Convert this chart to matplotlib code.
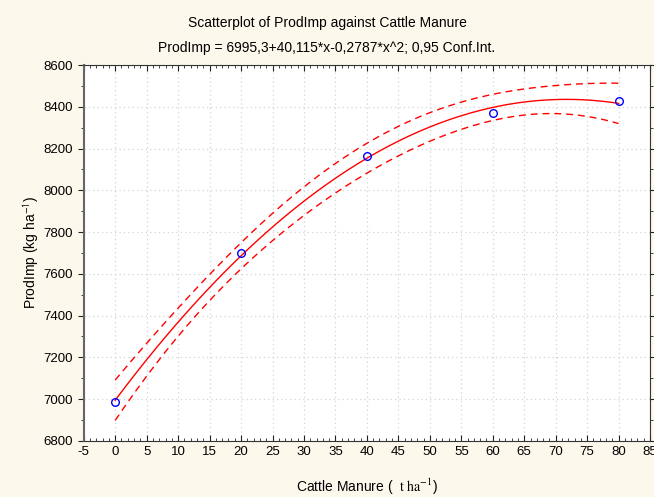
import numpy as np
import matplotlib
matplotlib.use("Agg")
import matplotlib.pyplot as plt
from matplotlib.ticker import MultipleLocator

# Data
manure = [0, 20, 40, 60, 80]
prodimp = [6987, 7698, 8165, 8371, 8428]
title1 = "Scatterplot of ProdImp against Cattle Manure"
title2 = "ProdImp = 6995,3+40,115*x-0,2787*x^2; 0,95 Conf.Int."
conf_level = 0.95
t_crit = 4.303  # t(0.975, df=2)

plt.rcParams['font.family'] = ['Liberation Sans', 'DejaVu Sans']
plt.rcParams['mathtext.fontset'] = 'stix'
plt.rcParams['axes.unicode_minus'] = False

x = np.array(manure, dtype=float)
y = np.array(prodimp, dtype=float)
X = np.vstack([np.ones_like(x), x, x**2]).T
beta, *_ = np.linalg.lstsq(X, y, rcond=None)
resid = y - X @ beta
dof = len(x) - 3
s2 = resid @ resid / dof
XtX_inv = np.linalg.inv(X.T @ X)

xs = np.linspace(0, 80, 200)
Xs = np.vstack([np.ones_like(xs), xs, xs**2]).T
fit = Xs @ beta
se = np.sqrt(s2 * np.einsum('ij,jk,ik->i', Xs, XtX_inv, Xs))
upper = fit + t_crit * se
lower = fit - t_crit * se

fig = plt.figure(figsize=(6.54, 4.97), dpi=100, facecolor='#fdf8ec')
ax = fig.add_axes([0.128, 0.113, 0.866, 0.756])
ax.set_facecolor('white')

ax.plot(xs, fit, color='#ff0000', lw=1.0)
ax.plot(xs, upper, color='#ff0000', lw=1.0, ls=(0, (5, 3.5)))
ax.plot(xs, lower, color='#ff0000', lw=1.0, ls=(0, (5, 3.5)))
ax.plot(x, y, ls='none', marker='o', ms=5.5, mfc='none', mec='#0000ff', mew=1.0)

ax.set_xlim(-5, 85)
ax.set_ylim(6800, 8600)
ax.xaxis.set_major_locator(MultipleLocator(5))
ax.xaxis.set_minor_locator(MultipleLocator(1))
ax.yaxis.set_major_locator(MultipleLocator(200))
ax.yaxis.set_minor_locator(MultipleLocator(100))
ax.grid(True, which='major', color='#d4d4d4', ls=(0, (1, 2.5)), lw=0.9)

for s in ax.spines.values():
    s.set_color('#333333')
    s.set_linewidth(0.8)
ax.spines['left'].set_linewidth(1.5)
ax.spines['left'].set_color('#666666')

ax.tick_params(which='both', top=True, right=True, labelsize=9.5, color='#222222')
ax.tick_params(which='major', length=4, direction='in')
ax.tick_params(which='minor', length=2, direction='in')
ax.tick_params(axis='y', which='both', direction='out', left=True)
ax.tick_params(axis='y', which='both', right=True)

ax.set_xlabel("Cattle Manure (  " + r"$\mathrm{t\ ha^{-1}}$" + ")", fontsize=10, labelpad=14)
ax.set_ylabel(r"ProdImp (kg ha$^{\mathsf{-1}}$)", fontsize=10, labelpad=2)

fig.text(0.5, 0.953, title1, ha='center', va='center', fontsize=10)
fig.text(0.5, 0.903, title2, ha='center', va='center', fontsize=10)

fig.savefig('out.png', dpi=100, facecolor=fig.get_facecolor())
